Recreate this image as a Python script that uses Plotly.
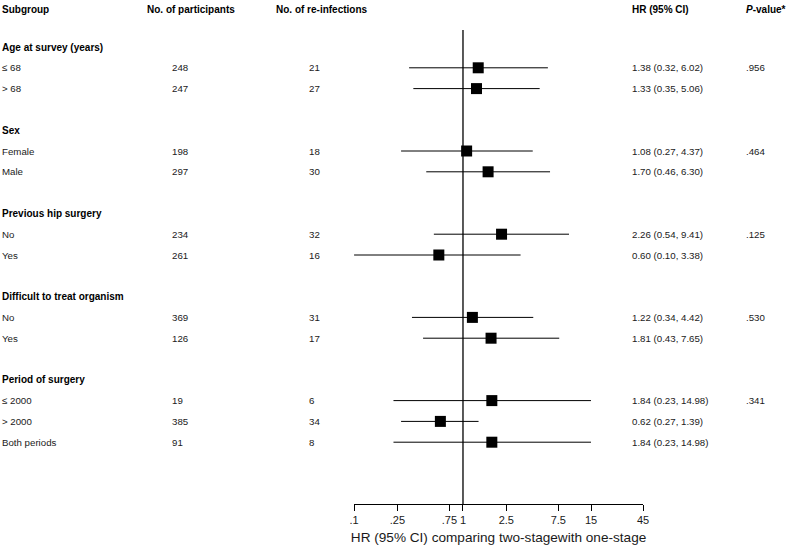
import plotly.graph_objects as go
import math

# ---- data ----
headers = ["Subgroup", "No. of participants", "No. of re-infections", "HR (95% CI)", "P-value*"]
groups = ["Age at survey (years)", "Sex", "Previous hip surgery",
          "Difficult to treat organism", "Period of surgery"]
labels = [["≤ 68", "> 68"], ["Female", "Male"], ["No", "Yes"], ["No", "Yes"],
          ["≤ 2000", "> 2000", "Both periods"]]
participants = [[248, 247], [198, 297], [234, 261], [369, 126], [19, 385, 91]]
reinfections = [[21, 27], [18, 30], [32, 16], [31, 17], [6, 34, 8]]
hr = [[1.38, 1.33], [1.08, 1.70], [2.26, 0.60], [1.22, 1.81], [1.84, 0.62, 1.84]]
lo = [[0.32, 0.35], [0.27, 0.46], [0.54, 0.10], [0.34, 0.43], [0.23, 0.27, 0.23]]
hi = [[6.02, 5.06], [4.37, 6.30], [9.41, 3.38], [4.42, 7.65], [14.98, 1.39, 14.98]]
pvals = [".956", ".464", ".125", ".530", ".341"]
tick_vals = [0.1, 0.25, 0.75, 1, 2.5, 7.5, 15, 45]
tick_text = [".1", ".25", ".75", "1", "2.5", "7.5", "15", "45"]
x_title = "HR (95% CI) comparing two-stagewith one-stage"

# ---- layout constants ----
W, H = 793, 548
FONT = "Liberation Sans, Arial, sans-serif"
FS_H = 10
FS = 9.7
col_x = {"sub": -3, "part_h": 144, "part": 169, "re_h": 275, "re": 308, "hr": 636, "p": 751}

fig = go.Figure()
ann = []

def px(xp):
    return xp / W

def add_text(x, y, text, size, color):
    ann.append(dict(x=px(x), y=y, xref="paper", yref="y", text=text,
                    showarrow=False, xanchor="left", yanchor="middle",
                    borderpad=0, borderwidth=0,
                    font=dict(family=FONT, size=size, color=color)))

# header row
hdr_row = -1.8
for text, key in zip(headers, ["sub", "part_h", "re_h", "hr", "p"]):
    t = "<b>" + text + "</b>"
    if text.startswith("P-"):
        t = "<b><i>P</i>-value*</b>"
    add_text(col_x[key], hdr_row, t, FS_H, "black")

row = 0
xs, ys, el, er = [], [], [], []
for g, name in enumerate(groups):
    add_text(col_x["sub"], row, "<b>" + name + "</b>", FS_H, "black")
    row += 1
    for i, lab in enumerate(labels[g]):
        for text, key in [(lab, "sub"), (str(participants[g][i]), "part"),
                          (str(reinfections[g][i]), "re"),
                          (f"{hr[g][i]:.2f} ({lo[g][i]:.2f}, {hi[g][i]:.2f})", "hr")]:
            add_text(col_x[key], row, text, FS, "#1a1a1a")
        if i == 0:
            add_text(col_x["p"], row, pvals[g], FS, "#1a1a1a")
        xs.append(hr[g][i]); ys.append(row)
        el.append(hr[g][i] - lo[g][i]); er.append(hi[g][i] - hr[g][i])
        row += 1
    row += 1

fig.add_trace(go.Scatter(
    x=xs, y=ys, mode="markers",
    marker=dict(symbol="square", size=11, color="black"),
    error_x=dict(type="data", symmetric=False, array=er, arrayminus=el,
                 color="black", thickness=1, width=0),
    showlegend=False, hoverinfo="skip"))

# reference line at HR = 1
row_px = 20.8
top_row = -47 / row_px
bot_row = (504 - 47) / row_px
fig.add_shape(type="line", xref="x", yref="y", x0=1, x1=1, y0=-17 / row_px, y1=bot_row,
              line=dict(color="black", width=1.3))

x0p, x1p = 354, 647
fig.update_layout(
    width=W, height=H, margin=dict(l=0, r=0, t=0, b=H - 504),
    paper_bgcolor="white", plot_bgcolor="white",
    annotations=ann,
    xaxis=dict(type="log", domain=[x0p / W, x1p / W],
               range=[math.log10(0.1), math.log10(45)],
               tickvals=tick_vals, ticktext=tick_text, ticks="outside", ticklen=6,
               tickcolor="black", tickwidth=1, showline=True, linecolor="black", linewidth=1,
               showgrid=False, zeroline=False,
               tickfont=dict(family=FONT, size=11, color="#1a1a1a"),
               title=dict(text=x_title, font=dict(family=FONT, size=13.6, color="#1a1a1a"), standoff=7)),
    yaxis=dict(range=[bot_row, top_row], visible=False, showgrid=False, zeroline=False),
)

fig.write_html("out.html", config={"displayModeBar": False},
               post_script="document.body.style.margin='0';document.body.style.overflow='hidden';")
